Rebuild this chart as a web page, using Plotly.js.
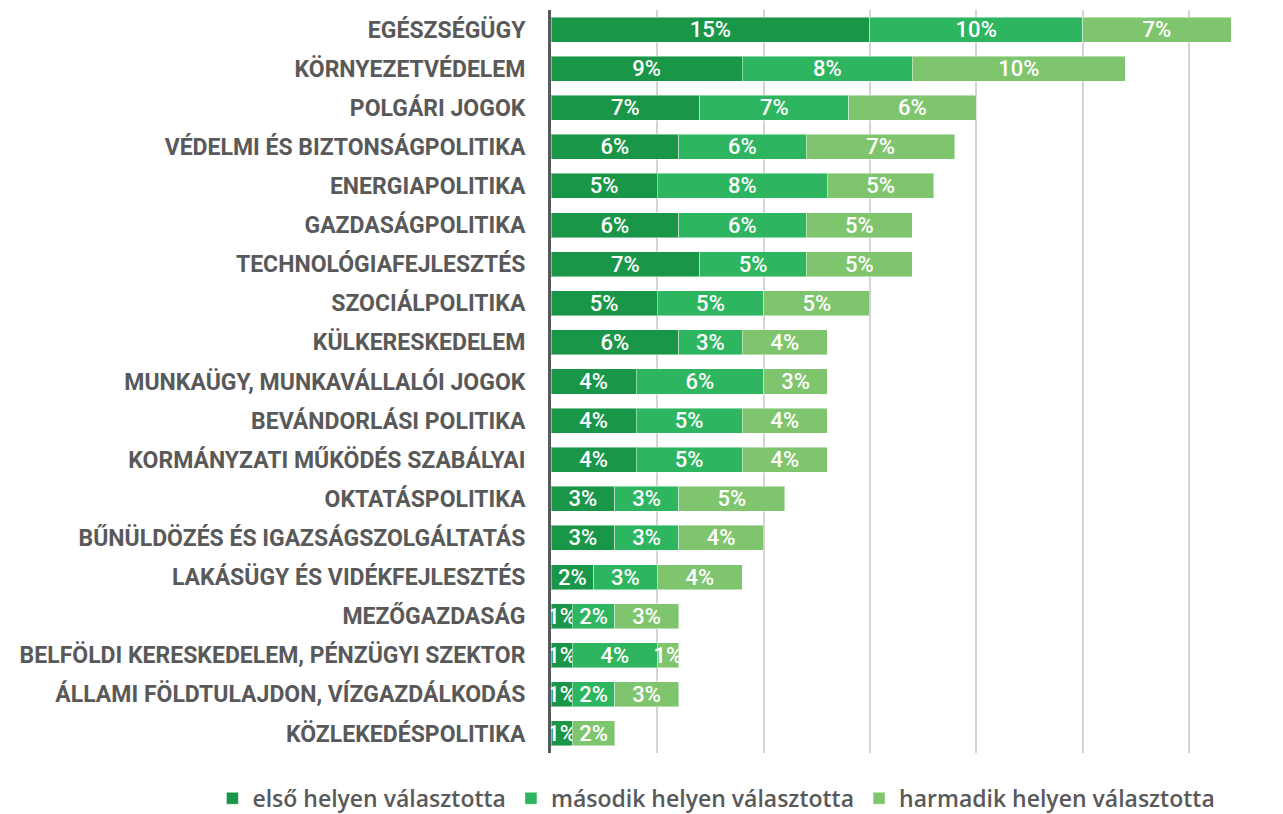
<!DOCTYPE html>
<html>
<head>
<meta charset="utf-8">
<script src="https://cdn.plot.ly/plotly-3.0.1.min.js"></script>
<style>html,body{margin:0;padding:0;background:#fff;}#chart{width:1283px;height:814px;}</style>
</head>
<body>
<div id="chart"></div>
<script>
const categories = [
  "EGÉSZSÉGÜGY",
  "KÖRNYEZETVÉDELEM",
  "POLGÁRI JOGOK",
  "VÉDELMI ÉS BIZTONSÁGPOLITIKA",
  "ENERGIAPOLITIKA",
  "GAZDASÁGPOLITIKA",
  "TECHNOLÓGIAFEJLESZTÉS",
  "SZOCIÁLPOLITIKA",
  "KÜLKERESKEDELEM",
  "MUNKAÜGY, MUNKAVÁLLALÓI JOGOK",
  "BEVÁNDORLÁSI POLITIKA",
  "KORMÁNYZATI MŰKÖDÉS SZABÁLYAI",
  "OKTATÁSPOLITIKA",
  "BŰNÜLDÖZÉS ÉS IGAZSÁGSZOLGÁLTATÁS",
  "LAKÁSÜGY ÉS VIDÉKFEJLESZTÉS",
  "MEZŐGAZDASÁG",
  "BELFÖLDI KERESKEDELEM, PÉNZÜGYI SZEKTOR",
  "ÁLLAMI FÖLDTULAJDON, VÍZGAZDÁLKODÁS",
  "KÖZLEKEDÉSPOLITIKA"
];
const firstPlace  = [15, 9, 7, 6, 5, 6, 7, 5, 6, 4, 4, 4, 3, 3, 2, 1, 1, 1, 1];
const secondPlace = [10, 8, 7, 6, 8, 6, 5, 5, 3, 6, 5, 5, 3, 3, 3, 2, 4, 2, 0];
const thirdPlace  = [ 7,10, 6, 7, 5, 5, 5, 5, 4, 3, 4, 4, 5, 4, 4, 3, 1, 3, 2];
const seriesNames = ["első helyen választotta", "második helyen választotta", "harmadik helyen választotta"];
const seriesColors = ["#1a9648", "#2db560", "#7fc56e"];

const FONT = "Roboto, 'Open Sans', sans-serif";
const LFONT = "'Open Sans', Roboto, sans-serif";
const allSeries = [firstPlace, secondPlace, thirdPlace];
const traces = allSeries.map((vals, i) => ({
  type: "bar",
  orientation: "h",
  name: seriesNames[i],
  y: categories,
  x: vals,
  text: vals.map(v => v ? v + "%" : ""),
  textposition: "inside",
  insidetextanchor: "middle",
  textangle: 0,
  constraintext: "none",
  insidetextfont: {family: FONT, size: 22, color: "#ffffff", weight: 500},
  marker: {color: seriesColors[i], line: {color: "rgba(255,255,255,0.45)", width: 1}},
  hoverinfo: "none"
}));

const layout = {
  width: 1283,
  height: 814,
  margin: {l: 551, r: 41, t: 10, b: 61, autoexpand: false},
  paper_bgcolor: "#ffffff",
  plot_bgcolor: "#ffffff",
  barmode: "stack",
  bargap: 0.36,
  showlegend: true,
  font: {family: FONT, color: "#595959"},
  xaxis: {
    range: [0, 32.5],
    dtick: 5,
    tick0: 0,
    showgrid: true,
    gridcolor: "#d4d4d4",
    gridwidth: 2,
    zeroline: false,
    showticklabels: false,
    showline: false,
    fixedrange: true
  },
  yaxis: {
    type: "category",
    autorange: "reversed",
    showline: true,
    linecolor: "#555a5c",
    linewidth: 3,
    showgrid: false,
    ticks: "",
    ticklabelstandoff: 18,
    tickfont: {family: FONT, size: 23, color: "#595959", weight: 700},
    fixedrange: true
  },
  legend: {
    orientation: "h",
    traceorder: "normal",
    xref: "paper",
    yref: "paper",
    x: -0.49,
    xanchor: "left",
    y: -0.061,
    yanchor: "middle",
    font: {family: LFONT, size: 23, color: "#595959", weight: 600},
    itemwidth: 30,
    tracegroupgap: 0
  }
};

Plotly.newPlot("chart", traces, layout, {displayModeBar: false, staticPlot: true});
</script>
</body>
</html>
